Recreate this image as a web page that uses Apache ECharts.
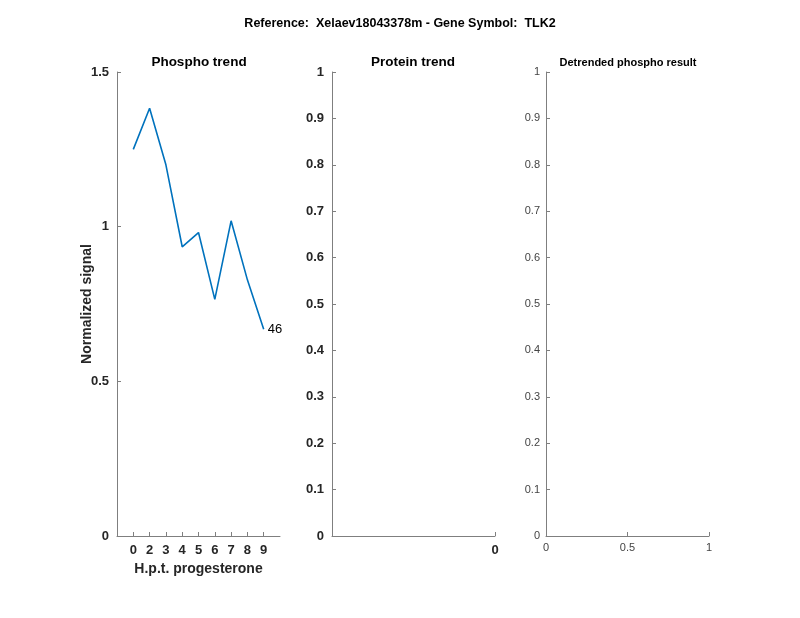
<!DOCTYPE html>
<html><head><meta charset="utf-8">
<script src="https://cdn.jsdelivr.net/npm/echarts@6/dist/echarts.min.js"></script>
<style>html,body{margin:0;padding:0;background:#fff}#c{width:800px;height:618px}</style>
</head><body><div id="c"></div>
<script>
const mainTitle = 'Reference:  Xelaev18043378m - Gene Symbol:  TLK2';
const subTitles = ['Phospho trend', 'Protein trend', 'Detrended phospho result'];
const timeLabels = ['0', '2', '3', '4', '5', '6', '7', '8', '9'];
const phosphoValues = [1.25, 1.383, 1.20, 0.935, 0.981, 0.765, 1.019, 0.828, 0.668];
const endLabelText = '46';
const yLabel = 'Normalized signal';
const xLabel = 'H.p.t. progesterone';

const FONT = '"Liberation Sans", Arial, Helvetica, sans-serif';
const axisColor = '#7f7f7f';
const textColor = '#262626';

const chart = echarts.init(document.getElementById('c'), null, {renderer: 'canvas'});
const idx = timeLabels.map((_, i) => i);
const lineData = phosphoValues.map((v, i) => [i, v]);

const baseAxisLine = {show: true, onZero: false, lineStyle: {color: axisColor, width: 1}};
const baseTick = {show: true, inside: true, length: 4, lineStyle: {color: axisColor}};

const option = {
  backgroundColor: '#fff',
  animation: false,
  title: [
    {text: mainTitle, left: 'center', top: 17, padding: 0, textStyle: {fontSize: 12.5, fontWeight: 'bold', color: '#000', fontFamily: FONT}},
    {text: subTitles[0], left: 199, top: 55, padding: 0, textAlign: 'center', textStyle: {fontSize: 13.5, fontWeight: 'bold', color: '#000', fontFamily: FONT}},
    {text: subTitles[1], left: 413, top: 55, padding: 0, textAlign: 'center', textStyle: {fontSize: 13.5, fontWeight: 'bold', color: '#000', fontFamily: FONT}},
    {text: subTitles[2], left: 628, top: 57, padding: 0, textAlign: 'center', textStyle: {fontSize: 11, fontWeight: 'bold', color: '#000', fontFamily: FONT}}
  ],
  grid: [
    {left: 117, width: 163, top: 72, height: 464},
    {left: 332, width: 163, top: 72, height: 464},
    {left: 546, width: 163, top: 72, height: 464}
  ],
  xAxis: [
    {gridIndex: 0, type: 'value', min: -1, max: 9, interval: 1,
     name: xLabel, nameLocation: 'middle', nameGap: 22,
     nameTextStyle: {fontSize: 14, fontWeight: 'bold', color: textColor, fontFamily: FONT},
     axisLine: baseAxisLine,
     axisTick: Object.assign({}, baseTick, {customValues: idx}),
     axisLabel: {customValues: idx, formatter: v => timeLabels[v], fontSize: 13, fontWeight: 'bold', color: textColor, fontFamily: FONT, margin: 8},
     splitLine: {show: false}},
    {gridIndex: 1, type: 'value', min: -1, max: 0, interval: 1,
     axisLine: baseAxisLine,
     axisTick: Object.assign({}, baseTick, {customValues: [0]}),
     axisLabel: {customValues: [0], fontSize: 13, fontWeight: 'bold', color: textColor, fontFamily: FONT, margin: 8},
     splitLine: {show: false}},
    {gridIndex: 2, type: 'value', min: 0, max: 1, interval: 0.5,
     axisLine: baseAxisLine, axisTick: baseTick,
     axisLabel: {fontSize: 11, color: '#444', fontFamily: FONT, margin: 6, showMinLabel: true, showMaxLabel: true},
     splitLine: {show: false}}
  ],
  yAxis: [
    {gridIndex: 0, type: 'value', min: 0, max: 1.5, interval: 0.5,
     name: yLabel, nameLocation: 'middle', nameGap: 23, nameRotate: 90, nameMoveOverlap: false,
     nameTextStyle: {fontSize: 14, fontWeight: 'bold', color: textColor, fontFamily: FONT},
     axisLine: baseAxisLine, axisTick: baseTick,
     axisLabel: {fontSize: 13, fontWeight: 'bold', color: textColor, fontFamily: FONT, margin: 8, formatter: v => String(v)},
     splitLine: {show: false}},
    {gridIndex: 1, type: 'value', min: 0, max: 1, interval: 0.1,
     axisLine: baseAxisLine, axisTick: baseTick,
     axisLabel: {fontSize: 13, fontWeight: 'bold', color: textColor, fontFamily: FONT, margin: 8, formatter: v => String(Math.round(v * 10) / 10)},
     splitLine: {show: false}},
    {gridIndex: 2, type: 'value', min: 0, max: 1, interval: 0.1,
     axisLine: baseAxisLine, axisTick: baseTick,
     axisLabel: {fontSize: 11, color: '#444', fontFamily: FONT, margin: 6, formatter: v => String(Math.round(v * 10) / 10)},
     splitLine: {show: false}}
  ],
  series: [
    {type: 'line', xAxisIndex: 0, yAxisIndex: 0, data: lineData, showSymbol: false, symbol: 'none',
     lineStyle: {color: '#0072BD', width: 1.6}, itemStyle: {color: '#0072BD'},
     endLabel: {show: true, formatter: endLabelText, color: '#000', fontSize: 13, fontFamily: FONT, distance: 4}}
  ]
};
chart.setOption(option);
</script>
</body></html>
